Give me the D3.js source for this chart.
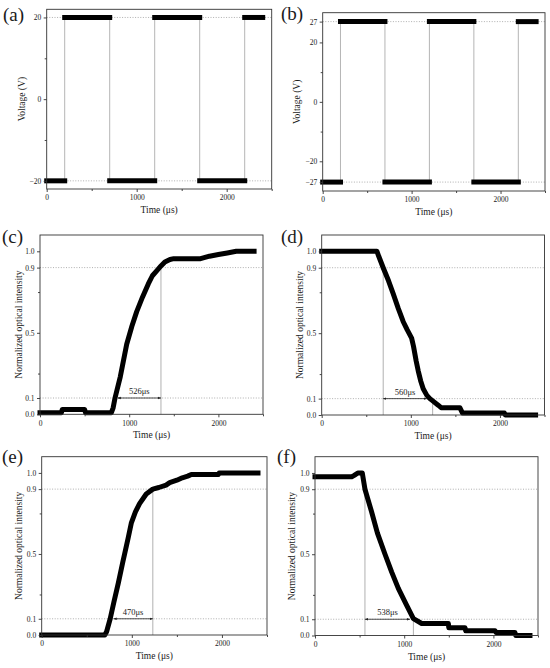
<!DOCTYPE html>
<html><head><meta charset="utf-8">
<script src="https://cdn.jsdelivr.net/npm/d3@7"></script>
<style>
body{margin:0;background:#fff}
svg{display:block}
</style>
</head><body>
<svg id="chart" width="550" height="668"></svg>
<script>
// ---------- data ----------
const panelNames = ["(a)","(b)","(c)","(d)","(e)","(f)"];
const timeTicks = [0, 1000, 2000];
const timeMinor = [500, 1500, 2500];
const voltTicksA = [-20, 0, 20];
const voltMinorA = [-10, 10];
const voltTicksB = [-27, -20, 0, 20, 27];
const voltMinorB = [-10, 10];
const intensityTicks = [0, 0.1, 0.5, 0.9, 1.0];
const intensityMinor = [0.25, 0.75];

const aTime = [0,200,200,700,700,1200,1200,1700,1700,2200,2200,2400];
const aVolt = [-20,-20,20,20,-20,-20,20,20,-20,-20,20,20];
const bTime = [0,200,200,700,700,1200,1200,1700,1700,2200,2200,2400];
const bVolt = [-27,-27,27,27,-27,-27,27,27,-27,-27,27,27];

const cTime = [0,240,250,500,510,800,820,841,900,972,1030,1084,1150,1214,1260,1308,1356,1400,1457,1500,1800,1900,2000,2100,2200,2400];
const cInt  = [0.01,0.01,0.03,0.03,0.01,0.01,0.04,0.1,0.23,0.43,0.54,0.63,0.72,0.8,0.85,0.88,0.91,0.935,0.95,0.955,0.955,0.97,0.98,0.99,1.0,1.0];

const dTime = [0,620,640,690,750,803,860,915,960,1009,1030,1060,1083,1110,1139,1180,1214,1260,1307,1340,1550,1580,2050,2060,2400];
const dInt  = [1.0,1.0,0.97,0.9,0.82,0.74,0.65,0.57,0.52,0.47,0.42,0.33,0.27,0.21,0.16,0.12,0.1,0.08,0.06,0.045,0.045,0.012,0.012,0.0,0.0];

const eTime = [0,700,720,760,800,850,900,920,960,994,1040,1086,1160,1233,1300,1380,1420,1500,1560,1620,1660,1960,1970,2400];
const eInt  = [0,0,0.02,0.1,0.2,0.32,0.45,0.5,0.6,0.69,0.76,0.81,0.87,0.9,0.91,0.925,0.94,0.955,0.97,0.98,0.99,0.99,1.0,1.0];

const fTime = [0,412,440,480,530,560,635,700,785,860,934,1028,1103,1196,1495,1500,1682,1690,2018,2030,2242,2250,2410];
const fInt  = [0.977,0.977,0.985,1.0,1.0,0.9,0.76,0.63,0.5,0.39,0.29,0.186,0.104,0.074,0.074,0.047,0.047,0.029,0.029,0.018,0.018,0.0,0.0];

// response-time annotations for (c)-(f)
const respLabels = ["526μs","560μs","470μs","538μs"];
const respFrom   = [837, 690, 763, 560];
const respTo     = [1356, 1214, 1233, 1098];
const respLines  = [[[1356,0.9]], [[690,0.9],[1245,0.1]], [[1233,0.9]], [[560,0.9],[1103,0.1]]];

// ---------- layout ----------
const FONT = "Liberation Serif";
const svg = d3.select("#chart").attr("font-family", FONT);
const defs = svg.append("defs");
defs.append("marker").attr("id","ah").attr("viewBox","0 0 10 10").attr("refX",10).attr("refY",5)
  .attr("markerWidth",4).attr("markerHeight",4).attr("orient","auto-start-reverse")
  .append("path").attr("d","M0,1L10,5L0,9Z").attr("fill","#222");

const layout = [
  {x0:46.7, x1:271.7, y0:189, y1:9.3,  yd:[-22,22]},
  {x0:322.7,x1:545,   y0:191, y1:12.7, yd:[-30,30]},
  {x0:40,   x1:263,   y0:414.3,y1:235, yd:[0,1.1]},
  {x0:321.7,x1:544.5, y0:415, y1:235,  yd:[0,1.1]},
  {x0:41.7, x1:267,   y0:635, y1:456.7,yd:[0,1.1]},
  {x0:315,  x1:538,   y0:635.5,y1:456.7,yd:[0,1.1]}
];
const labelPos = [[3,21],[281,20],[2,243],[281,243],[2,463],[277,463]];
const yTitleX = [21.7, 296.7, 18.3, 300, 18.3, 291.7];

const series = [
  {t:aTime, v:aVolt, type:"square", ticks:voltTicksA, minor:voltMinorA, ref:[-20,20], title:"Voltage (V)", fmt:d3.format("d")},
  {t:bTime, v:bVolt, type:"square", ticks:voltTicksB, minor:voltMinorB, ref:[-27,27], title:"Voltage (V)", fmt:d3.format("d")},
  {t:cTime, v:cInt, type:"curve", ticks:intensityTicks, minor:intensityMinor, ref:[0.1,0.9], title:"Normalized optical intensity", fmt:d3.format(".1f")},
  {t:dTime, v:dInt, type:"curve", ticks:intensityTicks, minor:intensityMinor, ref:[0.1,0.9], title:"Normalized optical intensity", fmt:d3.format(".1f")},
  {t:eTime, v:eInt, type:"curve", ticks:intensityTicks, minor:intensityMinor, ref:[0.1,0.9], title:"Normalized optical intensity", fmt:d3.format(".1f")},
  {t:fTime, v:fInt, type:"curve", ticks:intensityTicks, minor:intensityMinor, ref:[0.1,0.9], title:"Normalized optical intensity", fmt:d3.format(".1f")}
];

series.forEach((s, i) => {
  const L = layout[i];
  const x = d3.scaleLinear().domain([0,2500]).range([L.x0, L.x1]);
  const y = d3.scaleLinear().domain(L.yd).range([L.y0, L.y1]);
  const g = svg.append("g");
  const pts = s.t.map((t,k) => [t, s.v[k]]);

  s.ref.forEach(r => {
    g.append("line").attr("x1",x(0)).attr("x2",x(2500)).attr("y1",y(r)).attr("y2",y(r))
      .attr("stroke","#9a9a9a").attr("stroke-width",0.8).attr("stroke-dasharray","1,1.6");
  });

  const line = d3.line().x(d => x(d[0])).y(d => y(d[1]));

  if (s.type === "square") {
    g.append("path").attr("d", line(pts)).attr("fill","none").attr("stroke","#b5b5b5").attr("stroke-width",1);
    for (let k = 0; k < pts.length - 1; k++) {
      if (pts[k][1] === pts[k+1][1]) {
        g.append("path").attr("d", line([pts[k], pts[k+1]])).attr("fill","none")
          .attr("stroke","#000").attr("stroke-width",5).attr("stroke-linecap","square");
      }
    }
  } else {
    const j = i - 2;
    respLines[j].forEach(([t, top]) => {
      g.append("line").attr("x1",x(t)).attr("x2",x(t)).attr("y1",y(0)).attr("y2",y(top))
        .attr("stroke","#b0b0b0").attr("stroke-width",1);
    });
    g.append("path").attr("d", line(pts)).attr("fill","none").attr("stroke","#000")
      .attr("stroke-width",5).attr("stroke-linejoin","round").attr("stroke-linecap","square");
    const ax1 = x(respFrom[j]) + (j % 2 === 0 ? 3 : 0);
    const ax2 = x(respTo[j]) - (j % 2 === 0 ? 0 : 3);
    g.append("line").attr("x1",ax1).attr("x2",ax2).attr("y1",y(0.1)).attr("y2",y(0.1))
      .attr("stroke","#222").attr("stroke-width",0.8)
      .attr("marker-start","url(#ah)").attr("marker-end","url(#ah)");
    g.append("text").attr("x",(ax1+ax2)/2).attr("y",y(0.1)-4).attr("text-anchor","middle")
      .attr("font-size",8.5).attr("fill","#1a1a1a").text(respLabels[j]);
  }

  g.append("rect").attr("x",L.x0).attr("y",L.y1).attr("width",L.x1-L.x0).attr("height",L.y0-L.y1)
    .attr("fill","none").attr("stroke","#333").attr("stroke-width",0.9);

  const xa = g.append("g").attr("transform",`translate(0,${L.y0})`)
    .call(d3.axisBottom(x).tickValues(timeTicks).tickSize(3).tickPadding(3).tickFormat(d3.format("d")));
  const xm = g.append("g").attr("transform",`translate(0,${L.y0})`)
    .call(d3.axisBottom(x).tickValues(timeMinor).tickSize(2).tickFormat(""));
  const ya = g.append("g").attr("transform",`translate(${L.x0},0)`)
    .call(d3.axisLeft(y).tickValues(s.ticks).tickSize(3).tickPadding(2.5).tickFormat(s.fmt));
  const ym = g.append("g").attr("transform",`translate(${L.x0},0)`)
    .call(d3.axisLeft(y).tickValues(s.minor).tickSize(2).tickFormat(""));
  [xa,xm,ya,ym].forEach(a => {
    a.attr("font-family", FONT);
    a.select(".domain").remove();
    a.selectAll("line").attr("stroke","#333").attr("stroke-width",0.9);
    a.selectAll("text").attr("font-size",7.5).attr("fill","#1a1a1a");
  });

  g.append("text").attr("x",(L.x0+L.x1)/2).attr("y",L.y0+24).attr("text-anchor","middle")
    .attr("font-size",9.5).attr("fill","#1a1a1a").text("Time (μs)");
  g.append("text").attr("transform",`translate(${yTitleX[i]},${(L.y0+L.y1)/2}) rotate(-90)`)
    .attr("text-anchor","middle").attr("dy","0.35em").attr("font-size",9.5).attr("fill","#1a1a1a").text(s.title);
  g.append("text").attr("x",labelPos[i][0]).attr("y",labelPos[i][1]).attr("font-size",19).attr("fill","#1a1a1a").text(panelNames[i]);
});
</script>
</body></html>
